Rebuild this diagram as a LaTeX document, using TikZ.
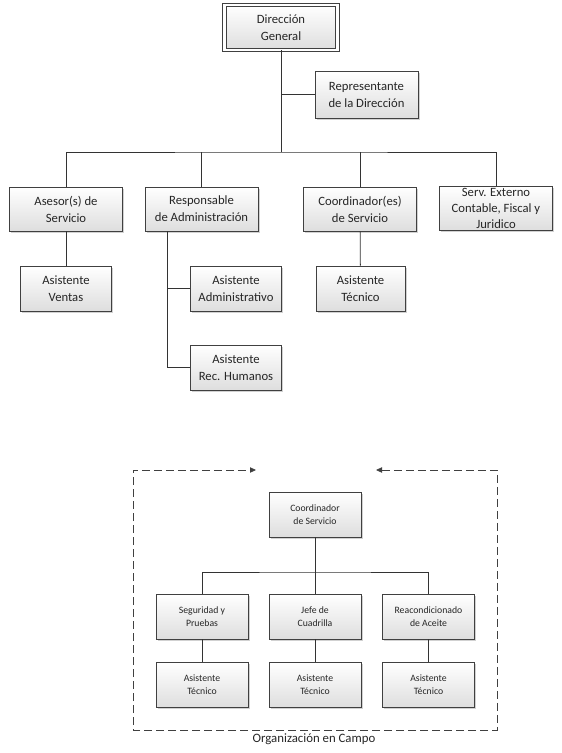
\documentclass[tikz,border=0pt]{standalone}
\usepackage{fontspec}
\setmainfont{Carlito}
\usetikzlibrary{arrows.meta,shadows}
\begin{document}
\begin{tikzpicture}[x=0.75pt,y=-0.75pt,
 box/.style={draw=black!75, line width=0.6pt, top color=white, bottom color=black!13,
   drop shadow={shadow xshift=1.2pt,shadow yshift=-1.2pt,opacity=0.3,fill=black!60},
   align=center, inner sep=0pt, font=\fontsize{9.5}{12.75}\selectfont, text=black!85},
 big/.style={box, minimum width=84.75pt, minimum height=33pt},
 small/.style={box, minimum width=68.25pt, minimum height=33.75pt},
 tiny/.style={box, minimum width=69pt, minimum height=33.75pt, font=\fontsize{7.3}{9.75}\selectfont},
 conn/.style={draw=black!80, line width=0.6pt},
 frame/.style={draw=black!75, line width=0.6pt, dash pattern=on 6pt off 3pt},
]
\useasboundingbox (0,0) rectangle (561,753);

% top part
\node[big, double=white, double distance=2pt, minimum height=33.75pt] (dg) at (281,27.5) {Dirección\\General};
\node[box, minimum width=77.25pt, minimum height=35.25pt] (rep) at (366.5,94.5) {Representante\\de la Dirección};
\node[big] (ases) at (66,209) {Asesor(s) de\\Servicio};
\node[big] (resp) at (201.5,209) {Responsable\\de Administración};
\node[big] (coord) at (360,209) {Coordinador(es)\\de Servicio};
\node[big, font=\fontsize{9.5}{11.8}\selectfont] (serv) at (496,208.5) {Serv. Externo\\Contable, Fiscal y\\Juridico};
\node[small] (av) at (66,288.5) {Asistente\\Ventas};
\node[small] (aad) at (236,288.5) {Asistente\\Administrativo};
\node[small] (arh) at (236,367.5) {Asistente\\Rec. Humanos};
\node[small, minimum width=66.75pt] (atec) at (360.5,288.5) {Asistente\\Técnico};

\coordinate (b1) at (281,152);
\coordinate (rsp) at (167,231);
\draw[conn] (dg.south) -- (b1);
\draw[conn] (rep.west) -- (rep.west -| b1);
\draw[conn] (ases.north) |- (b1) -| (serv.north);
\draw[conn] (resp.north) -- (resp.north |- b1);
\draw[conn] (coord.north) -- (coord.north |- b1);
\draw[conn] (ases) -- (av);
\draw[conn] (coord) -- (atec);
\draw[conn] (rsp) |- (arh.west);
\draw[conn] (rsp |- aad.west) -- (aad.west);

% field organisation
\coordinate (ftl) at (133,470);
\coordinate (ftr) at (497,470);
\coordinate (fbl) at (133,730);
\coordinate (fbr) at (497,730);
\coordinate (fl) at (256,470);
\coordinate (fr) at (376,470);
\draw[frame, {Triangle[length=4.5pt,width=4pt]}-{Triangle[length=4.5pt,width=4pt]}]
  (fr) -- (ftr) -- (fbr) -- (fbl) -- (ftl) -- (fl);
\node[font=\fontsize{9.6}{12}\selectfont, text=black!85] (lbl) at (314,739) {Organización en Campo};

\node[tiny] (cs) at (315,514.5) {Coordinador\\de Servicio};
\node[tiny] (sp) at (202,616.5) {Seguridad y\\Pruebas};
\node[tiny] (jc) at (315,616.5) {Jefe de\\Cuadrilla};
\node[tiny] (ra) at (428.5,616.5) {Reacondicionado\\de Aceite};
\node[tiny] (t1) at (202,685) {Asistente\\Técnico};
\node[tiny] (t2) at (315,685) {Asistente\\Técnico};
\node[tiny] (t3) at (428.5,685) {Asistente\\Técnico};

\coordinate (b2) at (315,572);
\draw[conn] (cs) -- (b2);
\draw[conn] (sp.north) |- (b2) -| (ra.north);
\draw[conn] (jc.north) -- (b2);
\draw[conn] (sp) -- (t1);
\draw[conn] (jc) -- (t2);
\draw[conn] (ra) -- (t3);
\end{tikzpicture}
\end{document}
